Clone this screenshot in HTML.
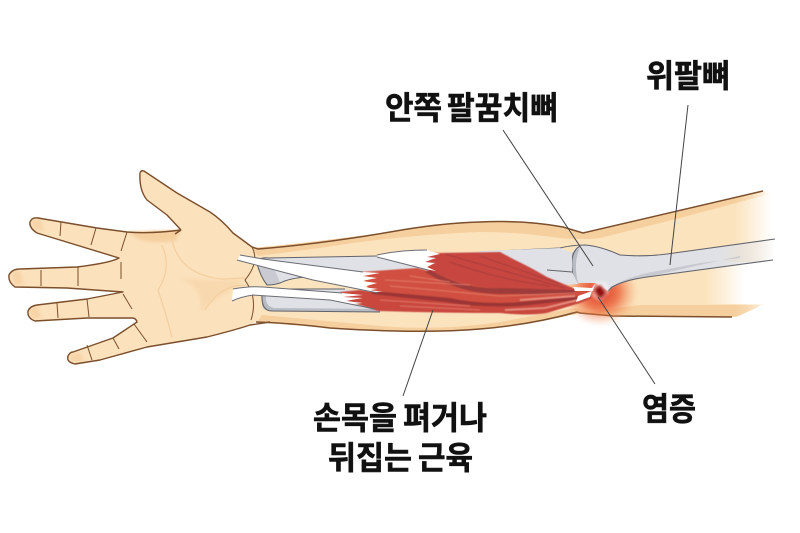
<!DOCTYPE html>
<html lang="ko"><head><meta charset="utf-8"><style>
html,body{margin:0;padding:0;background:#fff}
svg{display:block}
text{font-family:"Liberation Sans","Noto Sans CJK KR",sans-serif;font-weight:700;fill:#111;stroke:#111;stroke-width:.6px;font-size:32px}
</style></head><body>
<svg width="800" height="533" viewBox="0 0 800 533" xmlns="http://www.w3.org/2000/svg">
<defs>
<linearGradient id="fade" gradientUnits="userSpaceOnUse" x1="735" x2="772" y1="0" y2="0"><stop offset="0" stop-color="#fbe3bd"/><stop offset="1" stop-color="#fbe3bd" stop-opacity="0"/></linearGradient>
<linearGradient id="shade" gradientUnits="userSpaceOnUse" x1="735" x2="770" y1="0" y2="0"><stop offset="0" stop-color="#f6cf9f"/><stop offset="1" stop-color="#f6cf9f" stop-opacity="0"/></linearGradient>
<linearGradient id="lowfade" gradientUnits="userSpaceOnUse" x1="705" x2="745" y1="0" y2="0"><stop offset="0" stop-color="#fff" stop-opacity="0"/><stop offset="1" stop-color="#fff"/></linearGradient>
<linearGradient id="bfade" gradientUnits="userSpaceOnUse" x1="720" x2="778" y1="0" y2="0"><stop offset="0" stop-color="#e0e1e6"/><stop offset="1" stop-color="#e0e1e6" stop-opacity="0"/></linearGradient>
<radialGradient id="red"><stop offset="0" stop-color="#d8261a" stop-opacity=".95"/><stop offset=".5" stop-color="#ea5a30" stop-opacity=".75"/><stop offset="1" stop-color="#f59a60" stop-opacity="0"/></radialGradient>
<filter id="b1"><feGaussianBlur stdDeviation="1.5"/></filter>
<filter id="b05"><feGaussianBlur stdDeviation=".5"/></filter>
</defs>

<!-- arm body -->
<path d="M252 248 Q300 244 390 232 Q440 223 480 222 Q525 220 563 227 L583 233 L763 191 L780 191 L780 316 L613 316 L580 313 Q530 325 480 329 Q420 334 330 328 Q290 325 257 322 L230 300 Z" fill="url(#fade)"/>
<!-- arm shadows -->
<path d="M252 248 Q300 244 390 232 Q440 223 480 222 Q525 220 563 227 L583 233 L763 191 L770 194 L680 218 L600 238 Q585 240 560 238 Q520 232 480 232 Q400 235 320 248 L258 256 Z" fill="url(#shade)"/>
<path d="M262 315 L380 326 Q440 331 500 322 L575 308 L590 312 L640 305 L745 305 L760 305 L745 317 L613 316 L580 313 Q530 325 480 329 Q420 334 330 328 Q290 325 257 322 Z" fill="url(#shade)"/>
<rect x="700" y="262" width="90" height="42" fill="url(#lowfade)"/>
<path d="M734 318 L765 304 L790 303 L790 320 Z" fill="#fff"/>

<!-- hand -->
<path d="M140 173 Q141 170 144 171 L177 193 L210 212 Q222 220 233 233 L252 247 L256 322 Q235 330 207 337 L147 347 L100 360 L75 364 Q66 362 68 356 Q70 352 73 352 L113 338 L137 322 Q136 318 132 318 L87 318 L35 321 Q27 318 28 311 Q30 306 37 305 L87 299 L123 293 L67 288 L15 287 Q8 282 9 275 Q12 269 20 269 L77 267 L119 259 L37 233 Q29 228 30 222 Q32 217 38 218 L97 228 L127 232 L181 230 L167 215 L147 200 Q139 190 140 173 Z" fill="#fbe1bc"/>
<path d="M127 232 L181 230 L175 241 Q155 244 138 239 Z" fill="#f6cf9f" filter="url(#b1)"/>
<path d="M11 272 L20 270 L24 284 L14 285 Z M30 220 L40 219 L44 231 L34 229 Z M29 309 L38 306 L41 318 L32 319 Z M69 355 L80 352 L84 362 L72 362 Z" fill="#f6cf9f" opacity=".7" filter="url(#b1)"/>
<path d="M140 173 Q141 170 144 171 L177 193 L210 212 Q222 220 233 233 L252 247 M181 230 L167 215 L147 200 Q139 190 140 173 M181 230 L175 234 M181 230 Q150 234 127 232 L97 228 L38 218 Q32 217 30 222 Q29 228 37 233 L119 258 Q110 263 77 267 L20 269 Q12 269 9 275 Q8 282 15 287 L67 288 L123 292 L87 299 L37 305 Q30 306 28 311 Q27 318 35 321 L87 318 L132 318 Q136 318 137 322 L113 338 L73 352 Q70 352 68 356 Q66 362 75 364 L100 360 L147 347 L207 337 Q235 330 250 325 L270 322" fill="none" stroke="#7b4f2c" stroke-width="1.4" stroke-linejoin="round"/>
<path d="M61 222 L60 236 M96 228 L91 245 M127 232 L121 251 M41 270 L41 286 M78 267 L78 286 M121 262 L121 279 M123 294 L132 309 M57 303 L58 318 M87 299 L89 317 M113 338 L119 349 M87 345 L92 360 M134 324 L147 342" fill="none" stroke="#7b4f2c" stroke-width="1"/>
<path d="M162 245 Q172 268 158 290 Q168 320 172 338 M172 240 Q180 275 222 279 L245 278 M205 310 Q220 285 245 285" fill="none" stroke="#f3cfa0" stroke-width="1.2"/>
<path d="M252 247 Q260 262 245 280 L251 290 Q256 305 251 320" fill="none" stroke="#7b4f2c" stroke-width="1"/>
<path d="M180 278 Q215 282 240 279 L240 286 Q220 295 200 312 Q205 290 180 278 Z" fill="#f6cf9f" opacity=".45" filter="url(#b1)"/>

<!-- arm outline -->
<path d="M252 247 L258 249 Q320 244 390 232 Q440 223 480 222 Q525 220 563 227 L583 233 L763 191" fill="none" stroke="#7b4f2c" stroke-width="1.5"/>
<path d="M256 322 Q290 323 330 328 Q420 334 480 329 Q530 325 577 312 L580 313 L613 316 L732 317" fill="none" stroke="#7b4f2c" stroke-width="1.5"/>

<!-- inflammation glow -->
<ellipse cx="600" cy="292" rx="38" ry="34" fill="url(#red)" filter="url(#b1)"/>

<!-- humerus -->
<path d="M572 253 Q575 245 585 245 Q600 246 620 255 Q645 257 667 254 L775 239 L773 260 L647 277 Q625 280 612 287 L608 291 L595 283 L577 283 L572 270 Z" fill="url(#bfade)"/>
<path d="M610 288 Q622 279 647 273 L700 263 L740 258 L740 256 L647 277 Q625 280 612 288 Z" fill="#bfc1c8" opacity=".7"/>
<path d="M572 253 Q570 268 575 283 L578 283 Q573 262 580 248 Z" fill="#b9bbc3"/>
<path d="M480 252 L560 248 Q572 245 585 245 Q600 246 620 255 Q645 257 667 254 L775 239 M773 260 L647 277 Q625 280 612 287 L608 291" fill="none" stroke="#62646b" stroke-width="1.1"/>
<path d="M580 246 Q570 252 572 270 L574 283" fill="none" stroke="#62646b" stroke-width="1.1"/>
<!-- forearm bones -->
<path d="M480 251 L560 248 L572 253 L572 272 L578 284 L480 290 Z" fill="#e0e1e6"/>
<path d="M547 270 L572 272" stroke="#62646b" stroke-width="1"/>
<path d="M262 258 L377 256 L480 252 L480 280 L377 272 L307 277 Q290 278 280 283 L267 285 Q258 272 257 263 Z" fill="#e0e1e6"/>
<path d="M257 263 Q262 278 267 285 L280 283 Q275 265 262 262 Z" fill="#c4c6cd" opacity=".8"/>
<path d="M257 263 Q259 257 268 258 L377 256 M257 263 Q260 276 267 285 Q274 285 280 283 Q290 278 307 277 L320 276" fill="none" stroke="#62646b" stroke-width="1.1"/>
<path d="M262 292 Q262 288 270 289 L345 289 L400 300 L380 312 L272 311 Q262 311 262 304 Z" fill="#e0e1e6"/>
<path d="M262 296 L266 296 Q265 306 274 308 L380 309 L380 312 L272 311 Q262 311 262 304 Z" fill="#b9bbc3"/>
<path d="M267 289 L345 289 M262 294 Q261 311 272 311 L380 312" fill="none" stroke="#62646b" stroke-width="1.1"/>

<!-- muscles -->
<g filter="url(#b05)">
<path d="M420 250 L437 253 L500 252 L513 259 Q530 267 547 277 L573 288 L592 291 L575 298 L500 300 L430 275 Z" fill="#c7463f"/>
<path d="M360 272 L417 268 L433 272 Q470 288 500 288 L590 291 L592 298 L500 304 L440 300 L370 292 Z" fill="#d0503f"/>
<path d="M340 292 L360 290 L450 298 Q480 305 520 302 L590 295 L592 298 L580 303 L547 313 Q530 316 500 313 Q440 313 378 311 L345 300 Z" fill="#c9473c"/>
<path d="M430 270 Q465 290 500 288 L575 290 L575 294 L500 294 Q460 294 425 272 Z" fill="#9e3a3b"/>
<path d="M372 291 L450 298 Q480 305 520 302 L585 296 L585 299 L520 306 Q480 308 445 302 L372 294 Z" fill="#9b3536"/>
<path d="M445 254 Q500 270 565 288 M480 256 Q520 270 560 284 M450 262 Q500 280 550 286" fill="none" stroke="#a83c3d" stroke-width="1.2" opacity=".8"/>
<path d="M385 280 L470 285 M390 286 L500 296 L575 293 M410 276 L450 282 M380 300 L470 306 M400 306 L480 310" fill="none" stroke="#e5806f" stroke-width="1.1" opacity=".8"/>
<path d="M505 310 L545 308 L582 299 M520 300 L575 296" fill="none" stroke="#eb9888" stroke-width="1.8" opacity=".9"/>
</g>

<!-- tendons with toothed ends -->
<path d="M377 255 Q400 250 427 250 L440 254 L427 257 L436 258 L425 262 L435 263 L427 267 L436 271 L425 269 L377 257 Z" fill="#fff"/>
<path d="M377 255 Q400 250 427 250 M377 257 L428 270" fill="none" stroke="#6b6d74" stroke-width="1"/>
<path d="M240 255 L263 259 L363 272 L380 273 L363 276 L377 278 L362 281 L377 283 L363 287 L378 289 L370 290 L383 292 L370 292 L313 280 L237 260 Z" fill="#fff"/>
<path d="M240 255 L263 259 L363 272 M237 260 L313 280 L378 293" fill="none" stroke="#6b6d74" stroke-width="1"/>
<path d="M233 289 Q250 286 263 287 L342 293 L363 295 L343 297 L363 298 L345 301 L363 303 L353 304 L362 306 L330 300 L253 295 Q240 297 232 301 Z" fill="#fff"/>
<path d="M233 289 Q250 286 263 287 L342 293 M232 301 Q240 297 253 295 L330 300 L375 309" fill="none" stroke="#6b6d74" stroke-width="1"/>
<path d="M573 287 L592 288 L595 284 L593 291 L575 291 Z M578 296 L592 291 L590 297 L576 302 Z" fill="#fff"/>

<!-- inflamed point -->
<path d="M594 283 L606 282 L609 292 L600 301 L592 296 Z" fill="#fff" opacity=".55" filter="url(#b1)"/>
<path d="M594 290 L600 285 L606 293 L600 299 Z" fill="#8f0f10" filter="url(#b1)"/>

<!-- leader lines -->
<g stroke="#444" stroke-width="1" fill="none">
<path d="M503 130 L593 266"/>
<path d="M688 105 L670 265"/>
<path d="M598 297 L655 384"/>
<path d="M433 310 L403 396"/>
</g>

<!-- labels -->
<text x="385" y="119" textLength="57" lengthAdjust="spacingAndGlyphs">안쪽</text>
<text x="447" y="119" textLength="111" lengthAdjust="spacingAndGlyphs">팔꿈치뼈</text>
<text x="646" y="87" textLength="84" lengthAdjust="spacingAndGlyphs">위팔뼈</text>
<text x="313" y="429" textLength="84" lengthAdjust="spacingAndGlyphs">손목을</text>
<text x="403" y="429" textLength="84" lengthAdjust="spacingAndGlyphs">펴거나</text>
<text x="328" y="469" textLength="84" lengthAdjust="spacingAndGlyphs">뒤집는</text>
<text x="418" y="469" textLength="55" lengthAdjust="spacingAndGlyphs">근육</text>
<text x="642" y="420" textLength="54" lengthAdjust="spacingAndGlyphs">염증</text>
</svg>
</body></html>
